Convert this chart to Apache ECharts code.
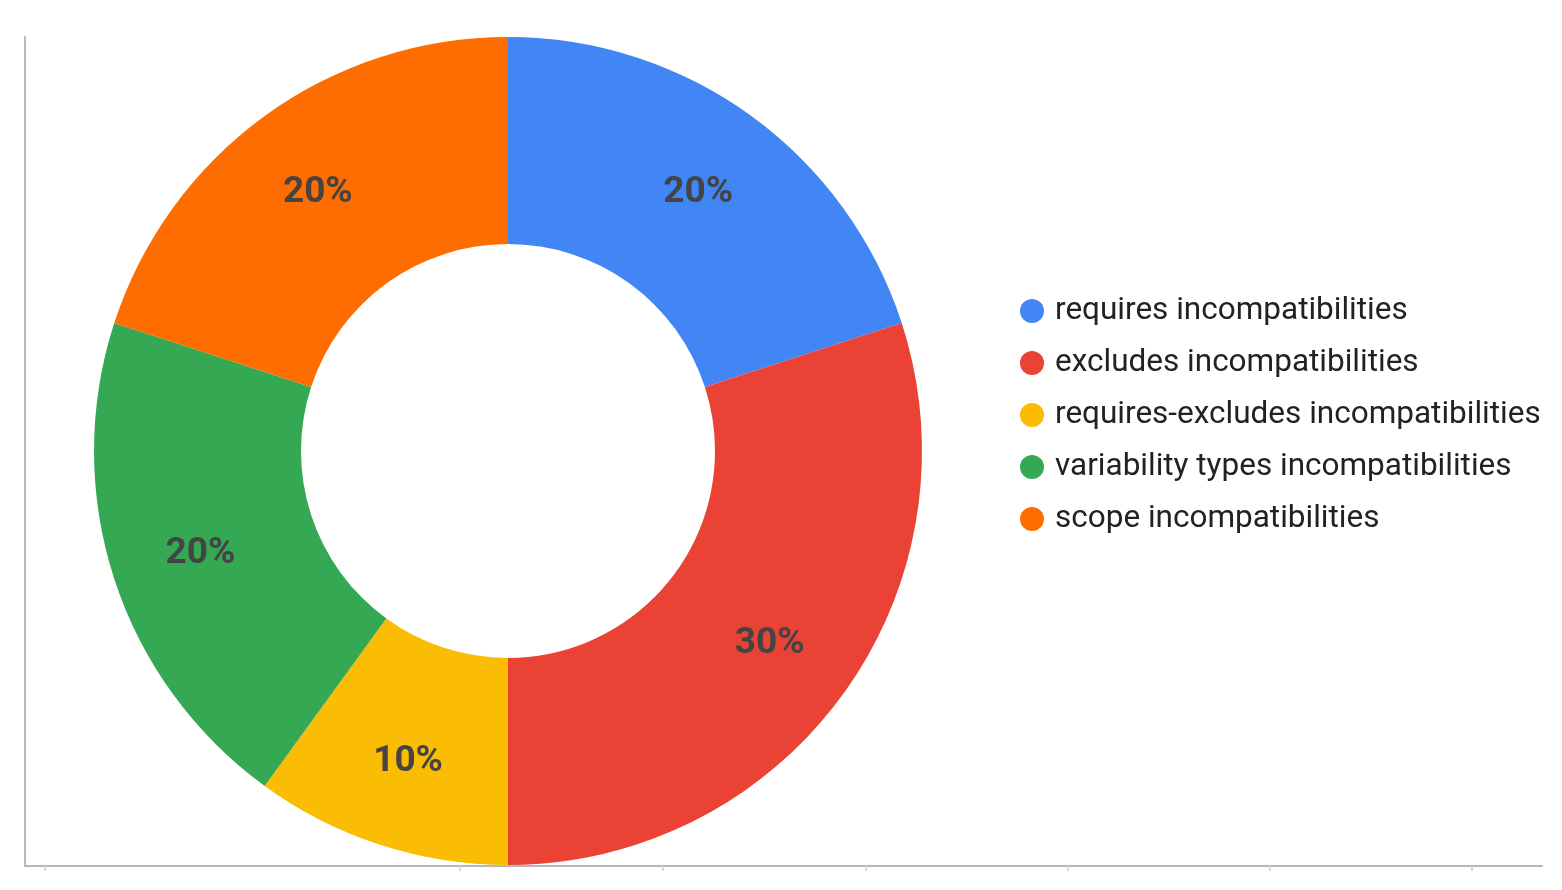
<!DOCTYPE html>
<html>
<head>
<meta charset="utf-8">
<script src="https://cdn.jsdelivr.net/npm/echarts@6/dist/echarts.min.js"></script>
<style>
  html, body { margin: 0; padding: 0; background: #fff; }
  #chart { width: 1562px; height: 890px; }
</style>
</head>
<body>
<div id="chart"></div>
<script>
// data
const categories = [
  'requires incompatibilities',
  'excludes incompatibilities',
  'requires-excludes incompatibilities',
  'variability types incompatibilities',
  'scope incompatibilities'
]
const shares = [20, 30, 10, 20, 20]
const colors = ['#4285F4', '#EA4335', '#FBBC04', '#34A853', '#FF6D01']
// tick marks along the bottom frame line
const frameTicks = [20, 435, 638, 841, 1043, 1245, 1447]

const pieCenter = [508, 451]

const myChart = echarts.init(document.getElementById('chart'))

const option = {
  animation: false,
  textStyle: { fontFamily: 'Roboto, Arial, sans-serif' },
  grid: { left: 25, right: 20, top: 37, bottom: 24 },
  xAxis: {
    type: 'value',
    min: 0,
    max: 1517,
    axisLine: { show: true, lineStyle: { color: '#b7b7b7', width: 2 } },
    axisTick: { show: true, customValues: frameTicks, length: 5, lineStyle: { color: '#d9d9d9', width: 2 } },
    axisLabel: { show: false },
    splitLine: { show: false }
  },
  yAxis: {
    type: 'value',
    axisLine: { show: true, lineStyle: { color: '#b7b7b7', width: 2 } },
    axisTick: { show: false },
    axisLabel: { show: false },
    splitLine: { show: false }
  },
  legend: {
    orient: 'vertical',
    left: 1015,
    top: 290,
    icon: 'circle',
    itemWidth: 24,
    itemHeight: 24,
    itemGap: 20,
    textStyle: { fontSize: 31.5, color: '#222', padding: [0, 0, 0, 6], lineHeight: 28 },
    data: categories
  },
  series: [
    {
      type: 'pie',
      center: pieCenter,
      radius: [207, 414],
      startAngle: 90,
      clockwise: true,
      color: colors,
      label: {
        show: true,
        position: 'inside',
        formatter: p => Math.round(p.percent) + '%',
        fontSize: 37,
        fontWeight: 'bold',
        color: '#444'
      },
      // nudge labels a little outward, as in the original
      labelLayout: params => {
        const r = params.labelRect
        const cx = r.x + r.width / 2
        const cy = r.y + r.height / 2 + 3
        const dx = cx - pieCenter[0]
        const dy = cy - pieCenter[1]
        const d = Math.sqrt(dx * dx + dy * dy)
        const k = (d + 10) / d
        return { x: pieCenter[0] + dx * k, y: pieCenter[1] + dy * k, align: 'center', verticalAlign: 'middle' }
      },
      labelLine: { show: false },
      itemStyle: { borderWidth: 0 },
      emphasis: { disabled: true },
      data: categories.map((name, i) => ({ name: name, value: shares[i] }))
    }
  ]
}

myChart.setOption(option)
</script>
</body>
</html>
